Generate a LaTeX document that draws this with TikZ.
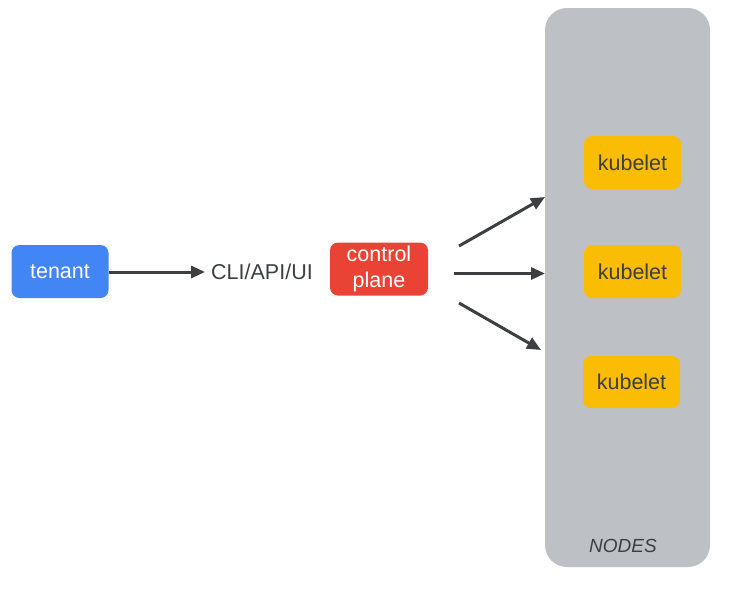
\documentclass[tikz,border=0pt]{standalone}
\usepackage{fontspec}
\setmainfont{Liberation Sans}
\usetikzlibrary{arrows.meta}
\definecolor{gblue}{HTML}{4285F4}
\definecolor{gred}{HTML}{EA4335}
\definecolor{gyellow}{HTML}{FBBC04}
\definecolor{ggray}{HTML}{BDC1C6}
\definecolor{gtext}{HTML}{3C4043}
\tikzset{
  box/.style={rounded corners=8pt, minimum width=97pt, minimum height=53pt, inner sep=0pt, align=center, font=\fontsize{21.5}{26.5}\selectfont},
  conn/.style={draw=gtext, line width=3pt, -{Triangle[length=14pt,width=12pt]}},
}
\begin{document}
\begin{tikzpicture}[x=1pt,y=-1pt]
\useasboundingbox (0,0) rectangle (730,590);
\fill[ggray, rounded corners=22pt] (545,8) rectangle (710,567);
\node[text=gtext, font=\fontsize{19}{22}\selectfont\itshape] (nodes) at (623,546) {NODES};
\node[box, fill=gblue, text=white] (tenant) at (60,271.5) {tenant};
\node[text=gtext, font=\fontsize{21.5}{24}\selectfont, inner sep=0pt] (cli) at (262,272) {CLI/API/UI};
\node[box, fill=gred, text=white, minimum width=98pt] (cp) at (379,269) {control\\plane};
\node[box, fill=gyellow, text=gtext] (k1) at (632.5,162.5) {kubelet};
\node[box, fill=gyellow, text=gtext] (k2) at (632.5,271.5) {kubelet};
\node[box, fill=gyellow, text=gtext, minimum height=52pt] (k3) at (631.5,382) {kubelet};
\coordinate (a1s) at (459,246);
\coordinate (a1e) at (545,197);
\coordinate (a2s) at (454,273.5);
\coordinate (a2e) at (545,273.5);
\coordinate (a3s) at (459,303);
\coordinate (a3e) at (541,350);
\draw[conn] (tenant.east |- 0,272) -- ([xshift=-6pt]cli.west);
\draw[conn] (a1s) -- (a1e);
\draw[conn] (a2s) -- (a2e);
\draw[conn] (a3s) -- (a3e);
\end{tikzpicture}
\end{document}
